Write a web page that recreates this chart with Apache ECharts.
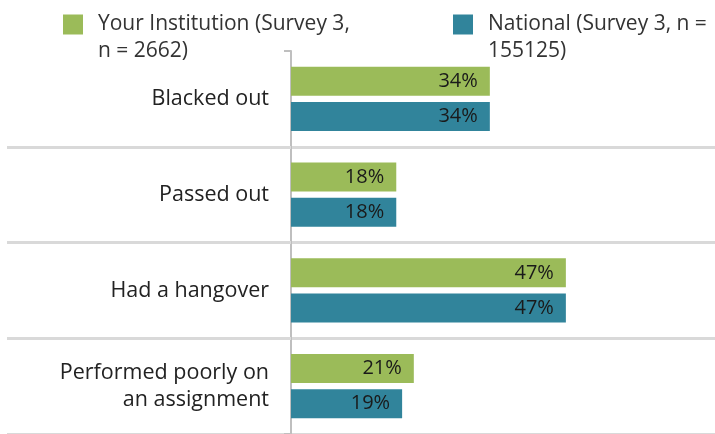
<!DOCTYPE html>
<html>
<head>
<meta charset="utf-8">
<script src="https://cdn.jsdelivr.net/npm/echarts@6/dist/echarts.min.js"></script>
<style>
  html, body { margin: 0; padding: 0; background: #fff; }
  #chart { width: 715px; height: 434px; }
</style>
</head>
<body>
<div id="chart"></div>
<script>
const categories = ['Blacked out', 'Passed out', 'Had a hangover', 'Performed poorly on\nan assignment']
const seriesNames = ['Your Institution (Survey 3, n = 2662)', 'National (Survey 3, n = 155125)']
// leading blank line keeps the first text line level with the legend square
const legendLines = ['\nYour Institution (Survey 3,\nn = 2662)', '\nNational (Survey 3, n =\n155125)']
const yourInstitution = [34, 18, 47, 21]
const national = [34, 18, 47, 19]

const green = '#9bbb59'
const blue = '#31849b'
const font = 'Open Sans'

const chart = echarts.init(document.getElementById('chart'))

const legendText = {
  fontFamily: font,
  fontSize: 21,
  color: '#333',
  lineHeight: 27,
  padding: [0, 0, 0, 10]
}

const barLabel = {
  show: true,
  position: 'insideRight',
  distance: 12,
  formatter: '{c}%',
  fontFamily: font,
  fontSize: 20,
  color: '#1a1a1a'
}

chart.setOption({
  animation: false,
  legend: [
    {
      data: [seriesNames[0]],
      left: 63, top: -16,
      itemWidth: 20, itemHeight: 20,
      icon: 'rect',
      padding: 0,
      formatter: () => legendLines[0],
      textStyle: legendText
    },
    {
      data: [seriesNames[1]],
      left: 453, top: -16,
      itemWidth: 20, itemHeight: 20,
      icon: 'rect',
      padding: 0,
      formatter: () => legendLines[1],
      textStyle: legendText
    }
  ],
  grid: { left: 291, top: 51, right: 0, height: 388, containLabel: false },
  xAxis: {
    type: 'value',
    min: 0,
    max: 72.5,
    show: false
  },
  yAxis: [
    {
      type: 'category',
      data: categories,
      inverse: true,
      axisLine: { show: true, lineStyle: { color: '#bfbfbf', width: 2 } },
      axisTick: {
        show: true,
        length: 284,
        interval: (i) => i !== 0,
        lineStyle: { color: '#d9d9d9', width: 3 }
      },
      splitLine: {
        show: true,
        interval: (i) => i !== 0,
        lineStyle: { color: '#d9d9d9', width: 3 }
      },
      axisLabel: {
        margin: 22,
        fontFamily: font,
        fontSize: 21.5,
        color: '#222',
        lineHeight: 27,
        align: 'right',
        padding: [10, 0, 0, 0]
      }
    },
    {
      type: 'category',
      data: categories,
      inverse: true,
      position: 'left',
      axisLine: { show: false },
      axisLabel: { show: false },
      axisTick: {
        show: true,
        length: 7,
        interval: (i) => i === 0,
        lineStyle: { color: '#bfbfbf', width: 2 }
      }
    }
  ],
  series: [
    {
      name: seriesNames[0],
      type: 'bar',
      data: yourInstitution,
      barWidth: 29,
      barGap: '21%',
      itemStyle: { color: green },
      label: barLabel
    },
    {
      name: seriesNames[1],
      type: 'bar',
      data: national,
      barWidth: 29,
      itemStyle: { color: blue },
      label: barLabel
    }
  ]
})
</script>
</body>
</html>
